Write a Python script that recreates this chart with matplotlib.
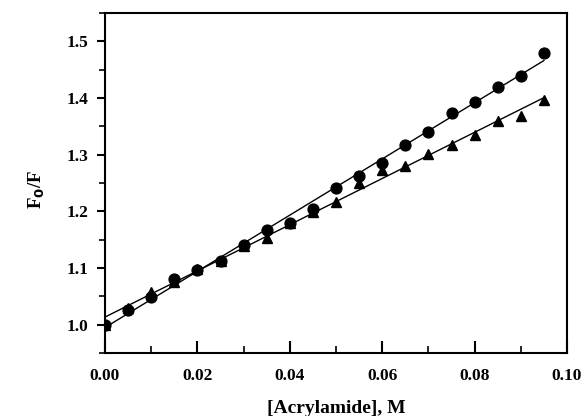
import numpy as np
import matplotlib
matplotlib.use('Agg')
import matplotlib.pyplot as plt
from matplotlib.ticker import MultipleLocator

# acrylamide concentration, M
conc = [0.000, 0.005, 0.010, 0.015, 0.020, 0.025, 0.030, 0.035, 0.040, 0.045,
        0.050, 0.055, 0.060, 0.065, 0.070, 0.075, 0.080, 0.085, 0.090, 0.095]
# F0/F, circles
f_circ = [1.000, 1.026, 1.049, 1.080, 1.097, 1.113, 1.141, 1.167, 1.180, 1.204,
          1.241, 1.263, 1.286, 1.317, 1.340, 1.374, 1.393, 1.420, 1.439, 1.480]
# F0/F, triangles
f_tri = [1.000, 1.029, 1.057, 1.076, 1.098, 1.113, 1.139, 1.153, 1.180, 1.199,
         1.217, 1.250, 1.273, 1.280, 1.301, 1.317, 1.334, 1.360, 1.368, 1.396]

plt.rcParams['font.family'] = 'Liberation Serif'
plt.rcParams['font.weight'] = 'bold'

fig = plt.figure(figsize=(5.86, 4.16), dpi=100)
ax = fig.add_axes([105/586., 1-353/416., 462/586., 340/416.])

x = np.array(conc)
for y, mk in [(f_circ, 'o'), (f_tri, '^')]:
    ax.plot(x, y, mk, color='black', ms=7.8, mec='black')
    # linear fit through the points
    k, b = np.polyfit(x, y, 1)
    ax.plot([x[0], x[-1]], [b, b + k*x[-1]], color='black', lw=1.0)

ax.set_xlim(0, 0.1)
ax.set_ylim(0.95, 1.55)
ax.xaxis.set_major_locator(MultipleLocator(0.02))
ax.xaxis.set_minor_locator(MultipleLocator(0.01))
ax.yaxis.set_major_locator(MultipleLocator(0.1))
ax.yaxis.set_minor_locator(MultipleLocator(0.05))
ax.xaxis.set_major_formatter(plt.FormatStrFormatter('%.2f'))
ax.yaxis.set_major_formatter(plt.FormatStrFormatter('%.1f'))
ax.tick_params(axis='x', which='major', direction='in', length=9, width=1.5, labelsize=12.5, pad=11)
ax.tick_params(axis='x', which='minor', direction='in', length=5, width=1.2)
ax.tick_params(axis='y', which='major', direction='out', length=6, width=1.5, labelsize=12.5, pad=6)
ax.tick_params(axis='y', which='minor', direction='out', length=4, width=1.2)
for s in ax.spines.values():
    s.set_linewidth(1.5)

ax.set_xlabel('[Acrylamide], M', fontsize=14, fontweight='bold')
ax.set_ylabel('F$_\\mathbf{0}$/F', fontsize=13.5, fontweight='bold')
ax.xaxis.set_label_coords(0.5, -0.138)
ax.yaxis.set_label_coords(-0.125, 0.48)

fig.savefig('out.png', dpi=100)
